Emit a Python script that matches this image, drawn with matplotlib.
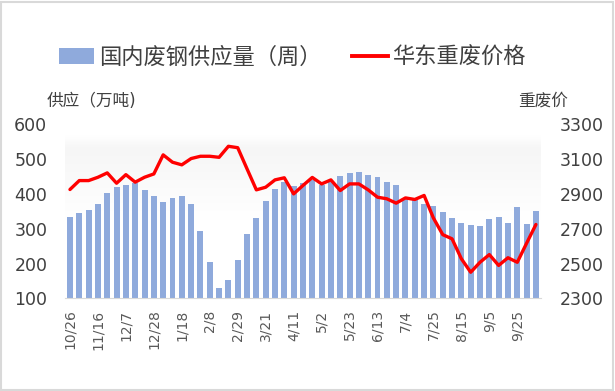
import numpy as np
import matplotlib.pyplot as plt
from matplotlib.colors import LinearSegmentedColormap
from matplotlib.patches import Rectangle, Patch
from matplotlib.lines import Line2D

plt.rcParams['font.family'] = ['DejaVu Sans', 'Noto Sans CJK SC']

# weekly supply (10k t) and east-china heavy scrap price
supply = [334, 344, 352, 369, 402, 420, 425, 429, 409, 393,
          375, 386, 393, 370, 294, 203, 129, 153, 211, 284,
          329, 378, 412, 432, 422, 429, 440, 423, 437, 451,
          458, 461, 454, 448, 434, 425, 386, 381, 371, 365,
          346, 330, 317, 309, 306, 326, 333, 317, 362, 314, 351]
price = [2923, 2974, 2974, 2993, 3018, 2959, 3008, 2965, 2993, 3012,
         3121, 3079, 3064, 3100, 3113, 3113, 3107, 3170, 3162, 3041,
         2921, 2936, 2978, 2990, 2898, 2946, 2992, 2955, 2978, 2917,
         2955, 2955, 2921, 2879, 2870, 2845, 2875, 2866, 2889, 2760,
         2665, 2641, 2527, 2450, 2507, 2551, 2489, 2533, 2507, 2616, 2723]
tick_labels = ['10/26', '11/16', '12/7', '12/28', '1/18', '2/8', '2/29', '3/21',
               '4/11', '5/2', '5/23', '6/13', '7/4', '7/25', '8/15', '9/5', '9/25']

bar_col = '#8FAADC'
txt_col = '#595959'

fig = plt.figure(figsize=(6.15, 3.91), dpi=100)
ax = fig.add_axes([0.1062, 0.2366, 0.879 - 0.1062, 0.684 - 0.2366])
ax2 = ax.twinx()

x = np.arange(len(supply))

# very faint gradient in plot area
cm = LinearSegmentedColormap.from_list('g', [(0, '#FFFFFF'), (0.45, '#FFFFFF'),
                                              (0.86, '#F6F6F6'), (0.93, '#FFFFFF'), (1, '#FFFFFF')])
grad = np.linspace(0, 1, 200).reshape(-1, 1)
ax.imshow(grad, extent=[0, 1, 0, 1], transform=ax.transAxes, aspect='auto',
          cmap=cm, origin='lower', zorder=0)

ax.bar(x, supply, width=0.64, color=bar_col, zorder=2)
ax2.plot(x, price, color='#FF0000', lw=2.4, solid_joinstyle='round',
         solid_capstyle='round', zorder=3)

ax.set_xlim(-0.5, len(supply) - 0.5)
ax.set_ylim(100, 600)
ax.set_yticks(range(100, 601, 100))
ax2.set_ylim(2300, 3300)
ax2.set_yticks(range(2300, 3301, 200))

ax.set_xticks(x[::3])
ax.set_xticklabels(tick_labels, rotation=90, fontsize=10, color=txt_col)
ax.tick_params(axis='x', length=0, pad=8)
ax.tick_params(axis='y', length=0, pad=13, labelsize=12.5, labelcolor='#404040')
ax2.tick_params(axis='y', length=0, pad=14, labelsize=12.5, labelcolor='#404040')

for s in ['top', 'left', 'right']:
    ax.spines[s].set_visible(False)
    ax2.spines[s].set_visible(False)
ax2.spines['bottom'].set_visible(False)
ax.spines['bottom'].set_color('#D9D9D9')

fig.text(0.076, 0.742, '供应（万吨)', fontsize=12, color='#404040', va='center')
fig.text(0.842, 0.742, '重废价', fontsize=12, color='#404040', va='center')

handles = [Patch(facecolor=bar_col, edgecolor='none'),
           Line2D([0], [0], color='#FF0000', lw=2.8)]
fig.legend(handles, ['国内废钢供应量（周）', '华东重废价格'], loc='center',
           bbox_to_anchor=(0.475, 0.854), ncol=2, frameon=False, fontsize=16,
           handlelength=1.6, handletextpad=0.2, columnspacing=1.4,
           labelcolor='#404040')

fig.patches.append(Rectangle((0.002, 0.003), 0.994, 0.993, transform=fig.transFigure,
                             fill=False, edgecolor='#D9D9D9', lw=1.5))

fig.savefig('out.png', dpi=100)
